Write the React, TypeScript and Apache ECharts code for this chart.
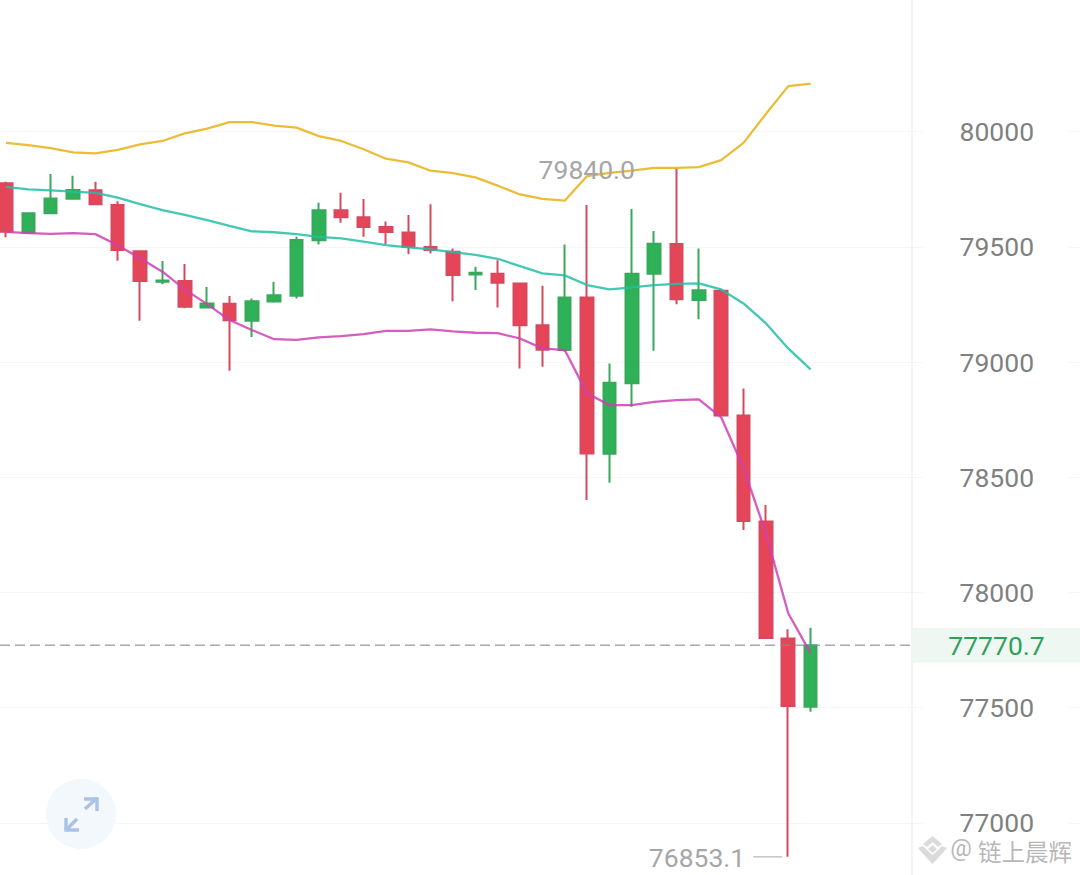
import React, { useEffect, useRef } from "react";
import * as echarts from "echarts";

// [open, close, low, high]
const candles: number[][] = [
  [79776, 79565, 79541, 79782],
  [79562, 79645, 79562, 79645],
  [79645, 79710, 79645, 79816],
  [79708, 79746, 79708, 79808],
  [79745, 79684, 79684, 79782],
  [79681, 79486, 79439, 79698],
  [79481, 79352, 79179, 79483],
  [79348, 79354, 79337, 79438],
  [79351, 79240, 79233, 79425],
  [79237, 79254, 79237, 79326],
  [79253, 79181, 78962, 79286],
  [79179, 79264, 79109, 79276],
  [79263, 79290, 79257, 79348],
  [79287, 79529, 79276, 79543],
  [79528, 79659, 79510, 79691],
  [79659, 79628, 79604, 79734],
  [79628, 79586, 79543, 79707],
  [79586, 79564, 79510, 79610],
  [79562, 79500, 79468, 79638],
  [79499, 79486, 79471, 79685],
  [79478, 79377, 79264, 79493],
  [79380, 79387, 79312, 79413],
  [79383, 79344, 79237, 79442],
  [79341, 79160, 78972, 79343],
  [79159, 79053, 78979, 79331],
  [79052, 79280, 79044, 79510],
  [79280, 78603, 78401, 79681],
  [78602, 78910, 78476, 78994],
  [78908, 79383, 78806, 79664],
  [79383, 79513, 79049, 79568],
  [79512, 79272, 79251, 79840],
  [79269, 79311, 79186, 79493],
  [79309, 78768, 78766, 79311],
  [78768, 78310, 78271, 78885],
  [78308, 77802, 77802, 78380],
  [77800, 77507, 76853.1, 77840],
  [77504, 77770.7, 77482, 77847],
];

const upperBand = [
  79951, 79941, 79928, 79910, 79905, 79920, 79944, 79959, 79992, 80013, 80041, 80041, 80026,
  80017, 79980, 79959, 79923, 79882, 79866, 79830, 79820, 79801, 79765, 79727, 79708, 79700,
  79807, 79821, 79830, 79842, 79842, 79846, 79876, 79951, 80076, 80197, 80208,
];
const middleBand = [
  79760, 79749, 79745, 79739, 79734, 79713, 79685, 79659, 79638, 79616, 79591, 79567, 79563,
  79555, 79543, 79536, 79522, 79507, 79497, 79489, 79477, 79465, 79448, 79416, 79385, 79376,
  79334, 79315, 79324, 79334, 79339, 79341, 79315, 79254, 79168, 79059, 78968,
];
const lowerBand = [
  79565, 79559, 79556, 79559, 79555, 79507, 79450, 79392, 79315, 79251, 79182, 79139, 79099,
  79096, 79107, 79112, 79121, 79135, 79135, 79142, 79133, 79127, 79125, 79102, 79059, 79052,
  78864, 78813, 78813, 78827, 78835, 78838, 78760, 78540, 78257, 77910, 77737,
];

const categories = Array.from({ length: 49 }, (_, i) => String(i));
const lastPrice = 77770.7;
const lastPriceLabel = "77770.7";
const highIndex = 30;
const highValue = 79840;
const highLabel = "79840.0";
const lowIndex = 35;
const lowValue = 76853.1;
const lowLabel = "76853.1";
const watermarkAt = "@";
const watermarkName = "链上晨辉";

const FONT = "Roboto";
const UP = "#2fb157";
const DOWN = "#e64558";
const UP_EDGE = "#38a85c";
const DOWN_EDGE = "#d54a5e";

export default function App() {
  const ref = useRef<HTMLDivElement>(null);
  useEffect(() => {
    const chart = echarts.init(ref.current!, undefined, { renderer: "svg" });
    const line = (name: string, data: number[], color: string) => ({
      name,
      type: "line" as const,
      data,
      showSymbol: false,
      smooth: false,
      z: 4,
      silent: true,
      lineStyle: { color, width: 2.3, opacity: 0.85 },
    });
    chart.setOption({
      animation: false,
      backgroundColor: "#ffffff",
      grid: {
        left: -5.2,
        right: -9.95,
        top: 16.3,
        bottom: -63.2,
        outerBoundsMode: "none",
        containLabel: false,
      },
      xAxis: { type: "category", data: categories, show: false, boundaryGap: true },
      yAxis: {
        type: "value",
        position: "right",
        min: 76500,
        max: 80500,
        interval: 500,
        axisLine: { show: false },
        axisTick: { show: false },
        splitLine: { show: true, showMaxLine: false, lineStyle: { color: "#f6f6f6", width: 1 } },
        axisLabel: {
          inside: true,
          margin: 21.9,
          color: "#808080",
          fontFamily: FONT,
          fontSize: 26.5,
          lineHeight: 26,
          backgroundColor: "#ffffff",
          padding: [0, 34, 0, 37],
          formatter: (v: number) => (v > 80000 || v < 77000 ? "" : String(v)),
        },
      },
      series: [
        {
          name: "K",
          type: "candlestick",
          data: candles,
          barWidth: 13,
          z: 2,
          silent: true,
          itemStyle: {
            color: UP,
            color0: DOWN,
            borderColor: UP_EDGE,
            borderColor0: DOWN_EDGE,
            borderWidth: 2,
          },
        },
        line("upper", upperBand, "#e8b015"),
        line("middle", middleBand, "#22c0a6"),
        line("lower", lowerBand, "#cf3fb4"),
      ],
    });

    const y = (v: number) => chart.convertToPixel({ yAxisIndex: 0 }, v) as number;
    const x = (i: number) => chart.convertToPixel({ xAxisIndex: 0 }, i) as number;
    const py = y(lastPrice);
    const lowY = y(lowValue);
    const lowX = x(lowIndex);
    const highY = y(highValue);
    const highX = x(highIndex);

    echarts.graphic.registerShape(
      "wmLogo",
      echarts.graphic.extendPath(
        "M14.5 0 L24 8 L20 11 L14.5 6 L9 11 L5 8 Z M14.5 9 L19 13 L14.5 17 L10 13 Z M0 12 L5 10 L9 14 L14.5 19 L20 14 L24 10 L29 12 L23 19 L14.5 28 L6 19 Z",
        {}
      )
    );

    chart.setOption({
      graphic: [
        {
          type: "line",
          z: 1,
          silent: true,
          shape: { x1: 912, y1: 0, x2: 912, y2: 875 },
          style: { stroke: "#f1f1f1", lineWidth: 1.5 },
        },
        {
          type: "rect",
          z: 1,
          silent: true,
          shape: { x: 913, y: py - 17.5, width: 167, height: 35 },
          style: { fill: "#eff7f2" },
        },
        {
          type: "line",
          z: 6,
          silent: true,
          shape: { x1: 0, y1: py, x2: 910, y2: py },
          style: { stroke: "rgba(140,140,140,0.75)", lineWidth: 1.5, lineDash: [10, 5] },
        },
        {
          type: "text",
          z: 7,
          silent: true,
          x: 996.5,
          y: py,
          style: {
            text: lastPriceLabel,
            fill: "#2f9f5a",
            font: `26.5px ${FONT}`,
            textAlign: "center",
            textVerticalAlign: "middle",
          },
        },
        {
          type: "text",
          z: 7,
          silent: true,
          x: highX - 41.5,
          y: highY + 1,
          style: {
            text: highLabel,
            fill: "#a6a6a6",
            font: `26.5px ${FONT}`,
            textAlign: "right",
            textVerticalAlign: "middle",
          },
        },
        {
          type: "text",
          z: 7,
          silent: true,
          x: lowX - 43,
          y: lowY + 1,
          style: {
            text: lowLabel,
            fill: "#a6a6a6",
            font: `26.5px ${FONT}`,
            textAlign: "right",
            textVerticalAlign: "middle",
          },
        },
        {
          type: "line",
          z: 7,
          silent: true,
          shape: { x1: lowX - 35, y1: lowY, x2: lowX - 6, y2: lowY },
          style: { stroke: "#c4c4c4", lineWidth: 1.5 },
        },
        {
          type: "circle",
          z: 3,
          silent: true,
          shape: { cx: 81, cy: 814, r: 35 },
          style: { fill: "#f3f8fd" },
        },
        {
          type: "polyline",
          z: 7,
          silent: true,
          shape: { points: [[85, 809], [97, 798]] },
          style: { stroke: "#a9c3e6", lineWidth: 3.5, fill: "none" },
        },
        {
          type: "polyline",
          z: 7,
          silent: true,
          shape: { points: [[84, 799], [97, 799], [97, 811]] },
          style: { stroke: "#a9c3e6", lineWidth: 3.5, fill: "none" },
        },
        {
          type: "polyline",
          z: 7,
          silent: true,
          shape: { points: [[66, 830], [77, 819]] },
          style: { stroke: "#a9c3e6", lineWidth: 3.5, fill: "none" },
        },
        {
          type: "polyline",
          z: 7,
          silent: true,
          shape: { points: [[66, 818], [66, 830], [79, 830]] },
          style: { stroke: "#a9c3e6", lineWidth: 3.5, fill: "none" },
        },
        {
          type: "wmLogo",
          z: 8,
          silent: true,
          x: 918,
          y: 836,
          style: { fill: "rgba(190,190,190,0.55)" },
        },
        {
          type: "text",
          z: 8,
          silent: true,
          x: 961,
          y: 848,
          style: {
            text: watermarkAt,
            fill: "rgba(170,170,170,0.85)",
            font: `24px ${FONT}`,
            textAlign: "center",
            textVerticalAlign: "middle",
          },
        },
        {
          type: "text",
          z: 8,
          silent: true,
          x: 978,
          y: 851,
          style: {
            text: watermarkName,
            fill: "rgba(170,170,170,0.85)",
            font: `23.5px "Noto Sans CJK SC"`,
            textAlign: "left",
            textVerticalAlign: "middle",
          },
        },
      ],
    });
    return () => chart.dispose();
  }, []);
  return (
    <div
      ref={ref}
      style={{ position: "fixed", left: 0, top: 0, width: 1080, height: 875, background: "#fff" }}
    />
  );
}
